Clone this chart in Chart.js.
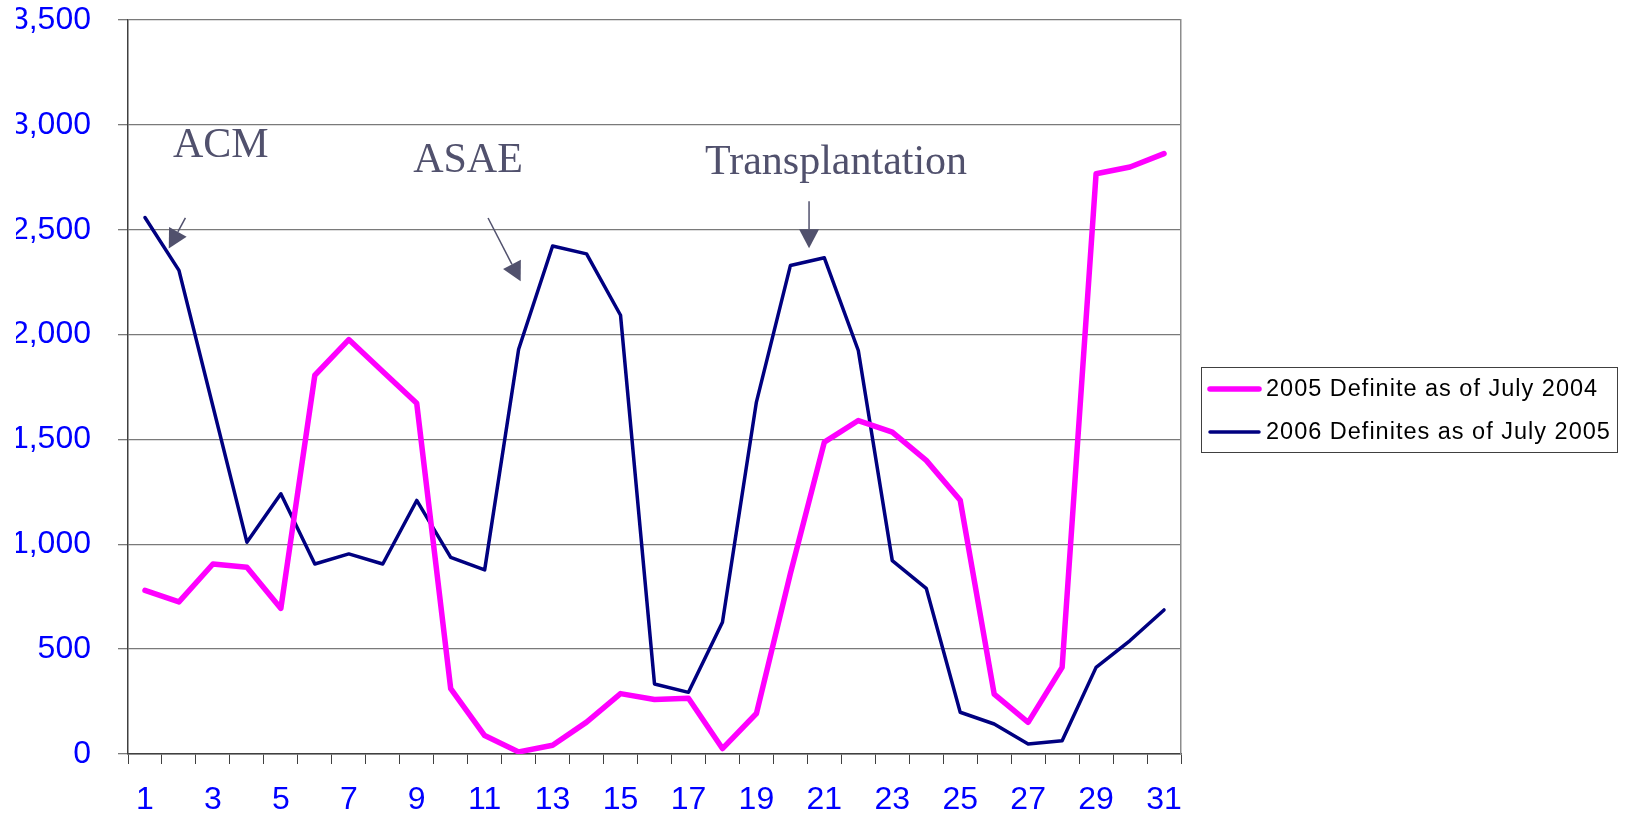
<!DOCTYPE html>
<html>
<head>
<meta charset="utf-8">
<script src="https://cdn.jsdelivr.net/npm/chart.js@4.4.1/dist/chart.umd.min.js"></script>
<style>
  html, body { margin: 0; padding: 0; background: #fff; }
  #wrap { width: 1627px; height: 818px; }
</style>
</head>
<body>
<div id="wrap"><canvas id="chart"></canvas></div>
<script>
// day of month
const days = ['1', '2', '3', '4', '5', '6', '7', '8', '9', '10', '11', '12', '13', '14', '15', '16',
  '17', '18', '19', '20', '21', '22', '23', '24', '25', '26', '27', '28', '29', '30', '31'];

const definite2005 = [780, 725, 906, 890, 694, 1806, 1976, 1824, 1672, 312, 88, 10, 42, 152, 288, 260,
  266, 26, 193, 860, 1487, 1590, 1535, 1400, 1210, 286, 151, 413, 2767, 2799, 2863];
const definite2006 = [2558, 2306, 1658, 1010, 1241, 906, 954, 906, 1209, 938, 878, 1930, 2422, 2385, 2092, 334,
  294, 628, 1678, 2329, 2366, 1924, 922, 790, 199, 143, 48, 63, 413, 541, 687];

// callouts, anchored in data units (category index, value)
const notes = [
  { text: 'ACM', at: [0.825, 2848], align: 'left', from: [1.19, 2556], to: [0.70, 2410] },
  { text: 'ASAE', at: [7.895, 2773], align: 'left', from: [10.10, 2556], to: [11.06, 2254] },
  { text: 'Transplantation', at: [20.345, 2768], align: 'center', from: [19.55, 2636], to: [19.55, 2412] }
];

const sans = '"Liberation Sans", Arial, sans-serif';
const noteColor = '#51516D';

const notesPlugin = {
  id: 'notes',
  afterDraw(chart) {
    const { ctx, chartArea, scales: { x, y } } = chart;
    ctx.save();
    ctx.fillStyle = noteColor;
    ctx.strokeStyle = noteColor;
    ctx.font = '42px "Liberation Serif", "Times New Roman", serif';
    ctx.textBaseline = 'alphabetic';
    notes.forEach(n => {
      ctx.textAlign = n.align;
      ctx.fillText(n.text, x.getPixelForValue(n.at[0]), y.getPixelForValue(n.at[1]));
      const x1 = x.getPixelForValue(n.from[0]), y1 = y.getPixelForValue(n.from[1]);
      const x2 = x.getPixelForValue(n.to[0]), y2 = y.getPixelForValue(n.to[1]);
      const a = Math.atan2(y2 - y1, x2 - x1);
      const bx = x2 - 19 * Math.cos(a), by = y2 - 19 * Math.sin(a);
      ctx.lineWidth = 1.5;
      ctx.beginPath();
      ctx.moveTo(x1, y1);
      ctx.lineTo(bx, by);
      ctx.stroke();
      ctx.beginPath();
      ctx.moveTo(x2, y2);
      ctx.lineTo(bx + 10 * Math.sin(a), by - 10 * Math.cos(a));
      ctx.lineTo(bx - 10 * Math.sin(a), by + 10 * Math.cos(a));
      ctx.closePath();
      ctx.fill();
    });

    // legend, boxed, to the right of the plot
    const lx = chartArea.right + 20, lw = 416, lh = 85;
    const ly = Math.round((chart.height - lh) / 2);
    ctx.strokeStyle = '#404040';
    ctx.lineWidth = 1;
    ctx.strokeRect(lx + 0.5, ly + 0.5, lw, lh);
    ctx.font = '23.5px ' + sans;
    ctx.textAlign = 'left';
    ctx.textBaseline = 'middle';
    ctx.letterSpacing = '1px';
    ctx.lineCap = 'round';
    chart.data.datasets.forEach((ds, i) => {
      const ry = ly + 22 + i * 43;
      ctx.strokeStyle = ds.borderColor;
      ctx.lineWidth = ds.borderWidth;
      ctx.beginPath();
      ctx.moveTo(lx + 9, ry);
      ctx.lineTo(lx + 58, ry);
      ctx.stroke();
      ctx.fillStyle = '#000';
      ctx.fillText(ds.label, lx + 65, ry + 1);
    });
    ctx.restore();
  }
};

const ctx = document.getElementById('chart').getContext('2d');
const chart = new Chart(ctx, {
  type: 'line',
  data: {
    labels: days,
    datasets: [{
      label: '2005 Definite as of July 2004',
      data: definite2005,
      borderColor: '#FF00FF',
      backgroundColor: '#FF00FF',
      borderWidth: 5.5,
      borderCapStyle: 'round',
      borderJoinStyle: 'round',
      pointRadius: 0,
      tension: 0
    }, {
      label: '2006 Definites as of July 2005',
      data: definite2006,
      borderColor: '#000080',
      backgroundColor: '#000080',
      borderWidth: 3.5,
      borderCapStyle: 'round',
      borderJoinStyle: 'round',
      pointRadius: 0,
      tension: 0
    }]
  },
  options: {
    responsive: true,
    maintainAspectRatio: false,
    animation: false,
    layout: { padding: { left: 16, top: 20, right: 446, bottom: 0 } },
    plugins: {
      legend: { display: false },
      tooltip: { enabled: false }
    },
    scales: {
      x: {
        offset: true,
        grid: { offset: true, drawOnChartArea: false, tickLength: 10, color: '#404040' },
        border: { color: '#404040', width: 1.5 },
        ticks: {
          autoSkip: false,
          maxRotation: 0,
          padding: 17,
          color: '#0000FF',
          font: { family: sans, size: 32 },
          callback: (v, i) => (i % 2 === 0 ? days[i] : '')
        },
        afterFit: s => { s.height = 64; s.paddingLeft = 0; s.paddingRight = 0; }
      },
      y: {
        min: 0,
        max: 3500,
        grid: { color: '#7A7A7A', tickLength: 10, lineWidth: 1.3 },
        border: { color: '#404040', width: 1.5 },
        ticks: {
          stepSize: 500,
          padding: 27,
          color: '#0000FF',
          font: { family: sans, size: 32 },
          callback: v => v.toLocaleString('en-US')
        },
        afterFit: s => { s.width = 112; s.paddingTop = 0; s.paddingBottom = 0; }
      },
      y2: {
        position: 'right',
        grid: { display: false },
        ticks: { display: false },
        border: { color: '#8C8C8C', width: 1.5 },
        afterFit: s => { s.width = 0; s.paddingTop = 0; s.paddingBottom = 0; }
      }
    }
  },
  plugins: [notesPlugin]
});
</script>
</body>
</html>
